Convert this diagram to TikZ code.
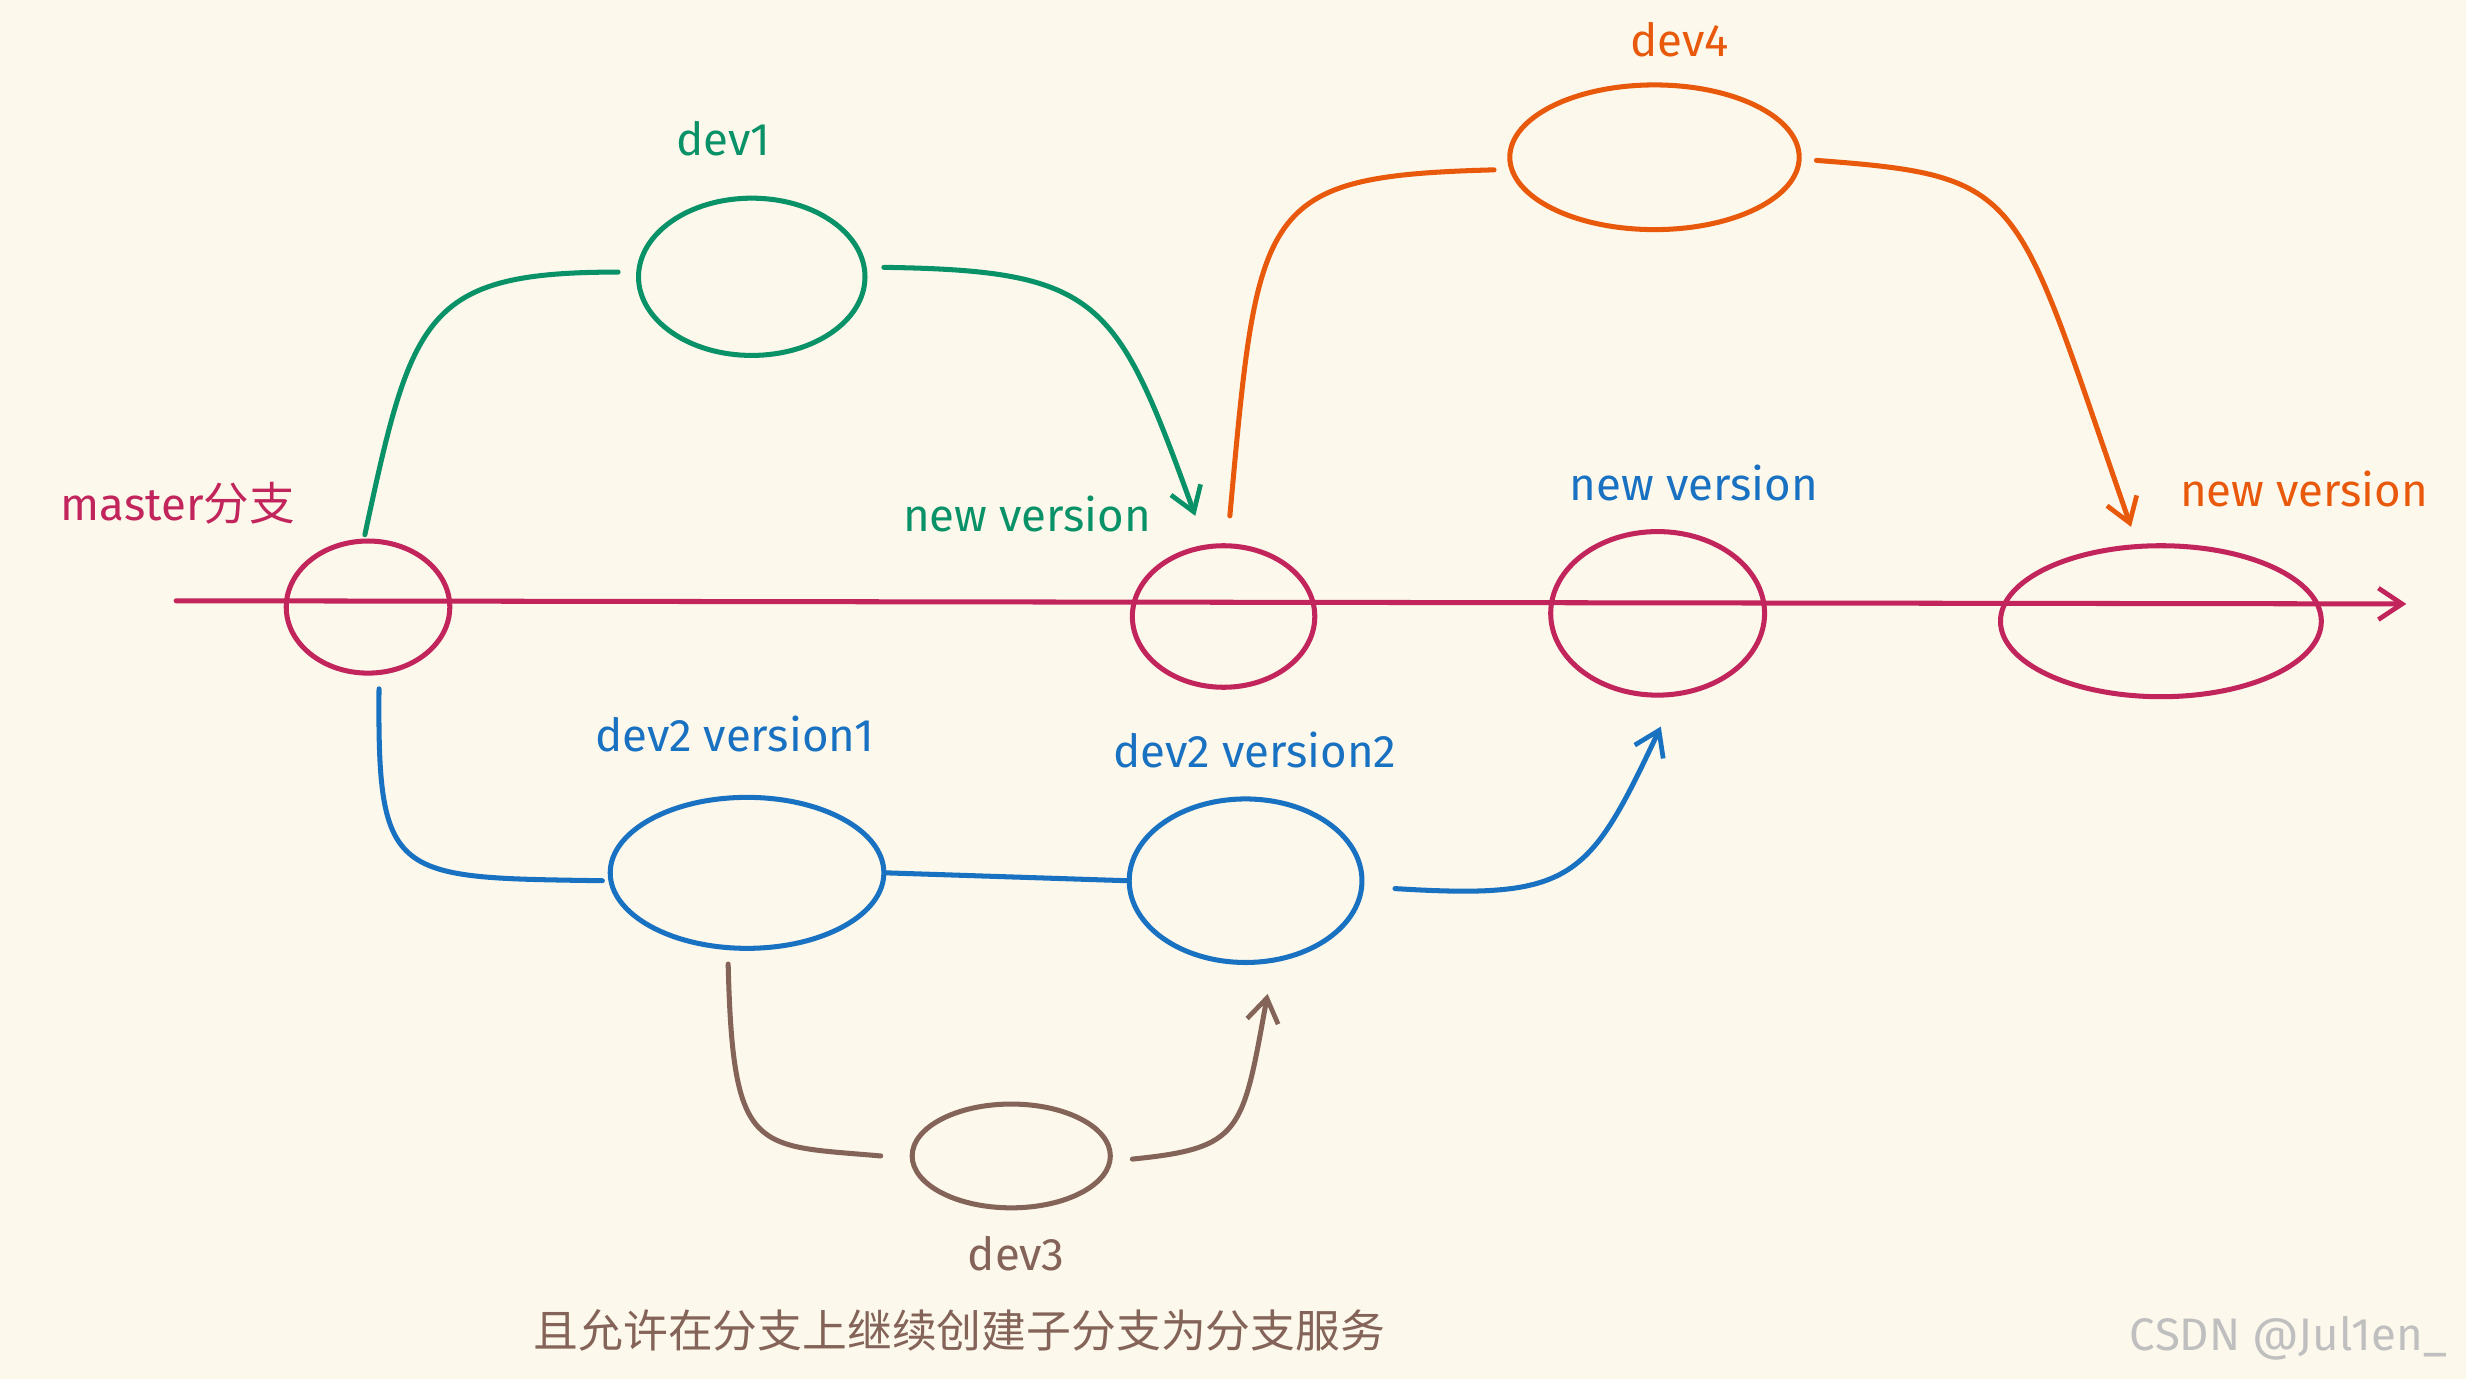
\documentclass[tikz,border=0pt]{standalone}
\usepackage{fontspec}
\setmainfont{Fira Sans}
\newfontfamily\cjk{Noto Sans CJK SC}
\usetikzlibrary{shapes.geometric,arrows.meta}
\definecolor{bg}{HTML}{FDF8EC}
\definecolor{colm}{HTML}{C2255C}
\definecolor{colg}{HTML}{099268}
\definecolor{colo}{HTML}{E8590C}
\definecolor{colb}{HTML}{1971C2}
\definecolor{colr}{HTML}{846358}
\tikzset{
 ell/.style={draw,ellipse,line width=3.2pt,inner sep=0pt},
 lbl/.style={font=\fontsize{29}{34}\selectfont},
 conn/.style={line width=3.2pt,line cap=round},
 arr/.style={conn,-{Straight Barb[length=15pt,width=20pt,line width=3pt]}}
}
\begin{document}
\begin{tikzpicture}[x=1pt,y=-1pt]
\fill[bg] (0,0) rectangle (1568,877);
\useasboundingbox (0,0) rectangle (1568,877);
\draw[arr,colm] (112,382) -- (1530,384);
\node[ell,colm,minimum width=104pt,minimum height=84pt] (m) at (234,386) {};
\node[ell,colm,minimum width=116pt,minimum height=90pt] (n1) at (778,392) {};
\node[ell,colm,minimum width=136pt,minimum height=104pt] (n2) at (1054,390) {};
\node[ell,colm,minimum width=204pt,minimum height=96pt] (n3) at (1374,395) {};
\node[ell,colg,minimum width=144pt,minimum height=100pt] (d1) at (478,176) {};
\node[ell,colo,minimum width=184pt,minimum height=92pt] (d4) at (1052,100) {};
\node[ell,colb,minimum width=174pt,minimum height=96pt] (v1) at (475,555) {};
\node[ell,colb,minimum width=148pt,minimum height=104pt] (v2) at (792,560) {};
\node[ell,colr,minimum width=126pt,minimum height=66pt] (d3) at (643,735) {};
\node[lbl,colm] (lm) at (113,320) {master{\cjk 分支}};
\node[lbl,colg] (l1) at (460,88) {dev1};
\node[lbl,colg] (ln1) at (653,327) {new version};
\node[lbl,colo] (l4) at (1068,25) {dev4};
\node[lbl,colb] (ln2) at (1077,307) {new version};
\node[lbl,colo] (ln3) at (1465,311) {new version};
\node[lbl,colb] (lv1) at (467,467) {dev2 version1};
\node[lbl,colb] (lv2) at (798,477) {dev2 version2};
\node[lbl,colr] (l3) at (646,797) {dev3};
\node[colr,font=\cjk\fontsize{28.5}{34}\selectfont] (bt) at (610,846) {且允许在分支上继续创建子分支为分支服务};
\node[black!25,font=\fontsize{29}{34}\selectfont] (wm) at (1455,851) {CSDN @Jul1en\_};
\coordinate (a1) at (232,340); \coordinate (a2) at (393,173);
\draw[conn,colg] (a1) .. controls (262,200) and (270,173) .. (a2);
\coordinate (b1) at (562,170); \coordinate (b2) at (760,328);
\draw[arr,colg] (b1) .. controls (700,172) and (710,190) .. (b2);
\coordinate (c1) at (782,328); \coordinate (c2) at (950,108);
\draw[conn,colo] (c1) .. controls (800,130) and (800,112) .. (c2);
\coordinate (e1) at (1155,102); \coordinate (e2) at (1355,335);
\draw[arr,colo] (e1) .. controls (1290,112) and (1280,120) .. (e2);
\coordinate (f1) at (241,438); \coordinate (f2) at (383,560);
\draw[conn,colb] (f1) .. controls (240,560) and (250,558) .. (f2);
\draw[conn,colb] (v1.east) -- (v2.west);
\coordinate (g1) at (887,565); \coordinate (g2) at (1056,462);
\draw[arr,colb] (g1) .. controls (1000,572) and (1010,560) .. (g2);
\coordinate (h1) at (463,613); \coordinate (h2) at (560,735);
\draw[conn,colr] (h1) .. controls (466,735) and (480,728) .. (h2);
\coordinate (k1) at (720,737); \coordinate (k2) at (806,632);
\draw[arr,colr] (k1) .. controls (790,730) and (790,720) .. (k2);
\end{tikzpicture}
\end{document}
